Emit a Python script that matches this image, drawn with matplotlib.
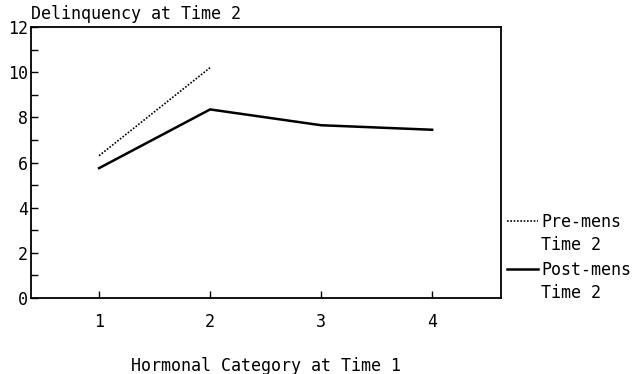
import matplotlib.pyplot as plt
from matplotlib.lines import Line2D

# Data
categories = [1, 2, 3, 4]
pre_mens = [6.3, 10.2]
post_mens = [5.75, 8.35, 7.65, 7.45]
pre_label = "Pre-mens\nTime 2"
post_label = "Post-mens\nTime 2"

plt.rcParams['font.family'] = 'DejaVu Sans Mono'

fig = plt.figure(figsize=(6.34, 3.74), dpi=100)
ax = fig.add_axes([31/634, 1 - 298/374, 470/634, 271/374])

ax.plot(categories[:len(pre_mens)], pre_mens, color="black", linewidth=1.2, linestyle=(0, (1, 1)))
ax.plot(categories, post_mens, color="black", linewidth=1.8)

ax.set_xlim(0.387, 4.62)
ax.set_ylim(0, 12)
ax.set_xticks(categories)
ax.set_yticks(range(0, 13, 2))
ax.set_yticks(range(0, 13), minor=True)
ax.tick_params(axis="both", direction="in", labelsize=12, length=5, width=1)
ax.tick_params(axis="y", which="minor", direction="in", length=5, width=1)
ax.tick_params(axis="x", pad=11)
ax.tick_params(axis="y", pad=2)
for s in ax.spines.values():
    s.set_linewidth(1.3)

ax.text(0, 1.015, "Delinquency at Time 2", transform=ax.transAxes, ha="left", va="bottom", fontsize=12)
fig.text(266/634, 1 - 366/374, "Hormonal Category at Time 1", ha="center", va="center", fontsize=12)

# legend drawn outside the axes on the right
for y0, ls, lw, lab in [(221, (0, (1, 1)), 1.2, pre_label), (269, "-", 1.8, post_label)]:
    fig.add_artist(Line2D([507/634, 538/634], [1 - y0/374, 1 - y0/374], color="black",
                          linewidth=lw, linestyle=ls))
    fig.text(541/634, 1 - (y0 - 8)/374, lab, ha="left", va="top", fontsize=12, linespacing=1.35)

plt.savefig("out.png", dpi=100)
